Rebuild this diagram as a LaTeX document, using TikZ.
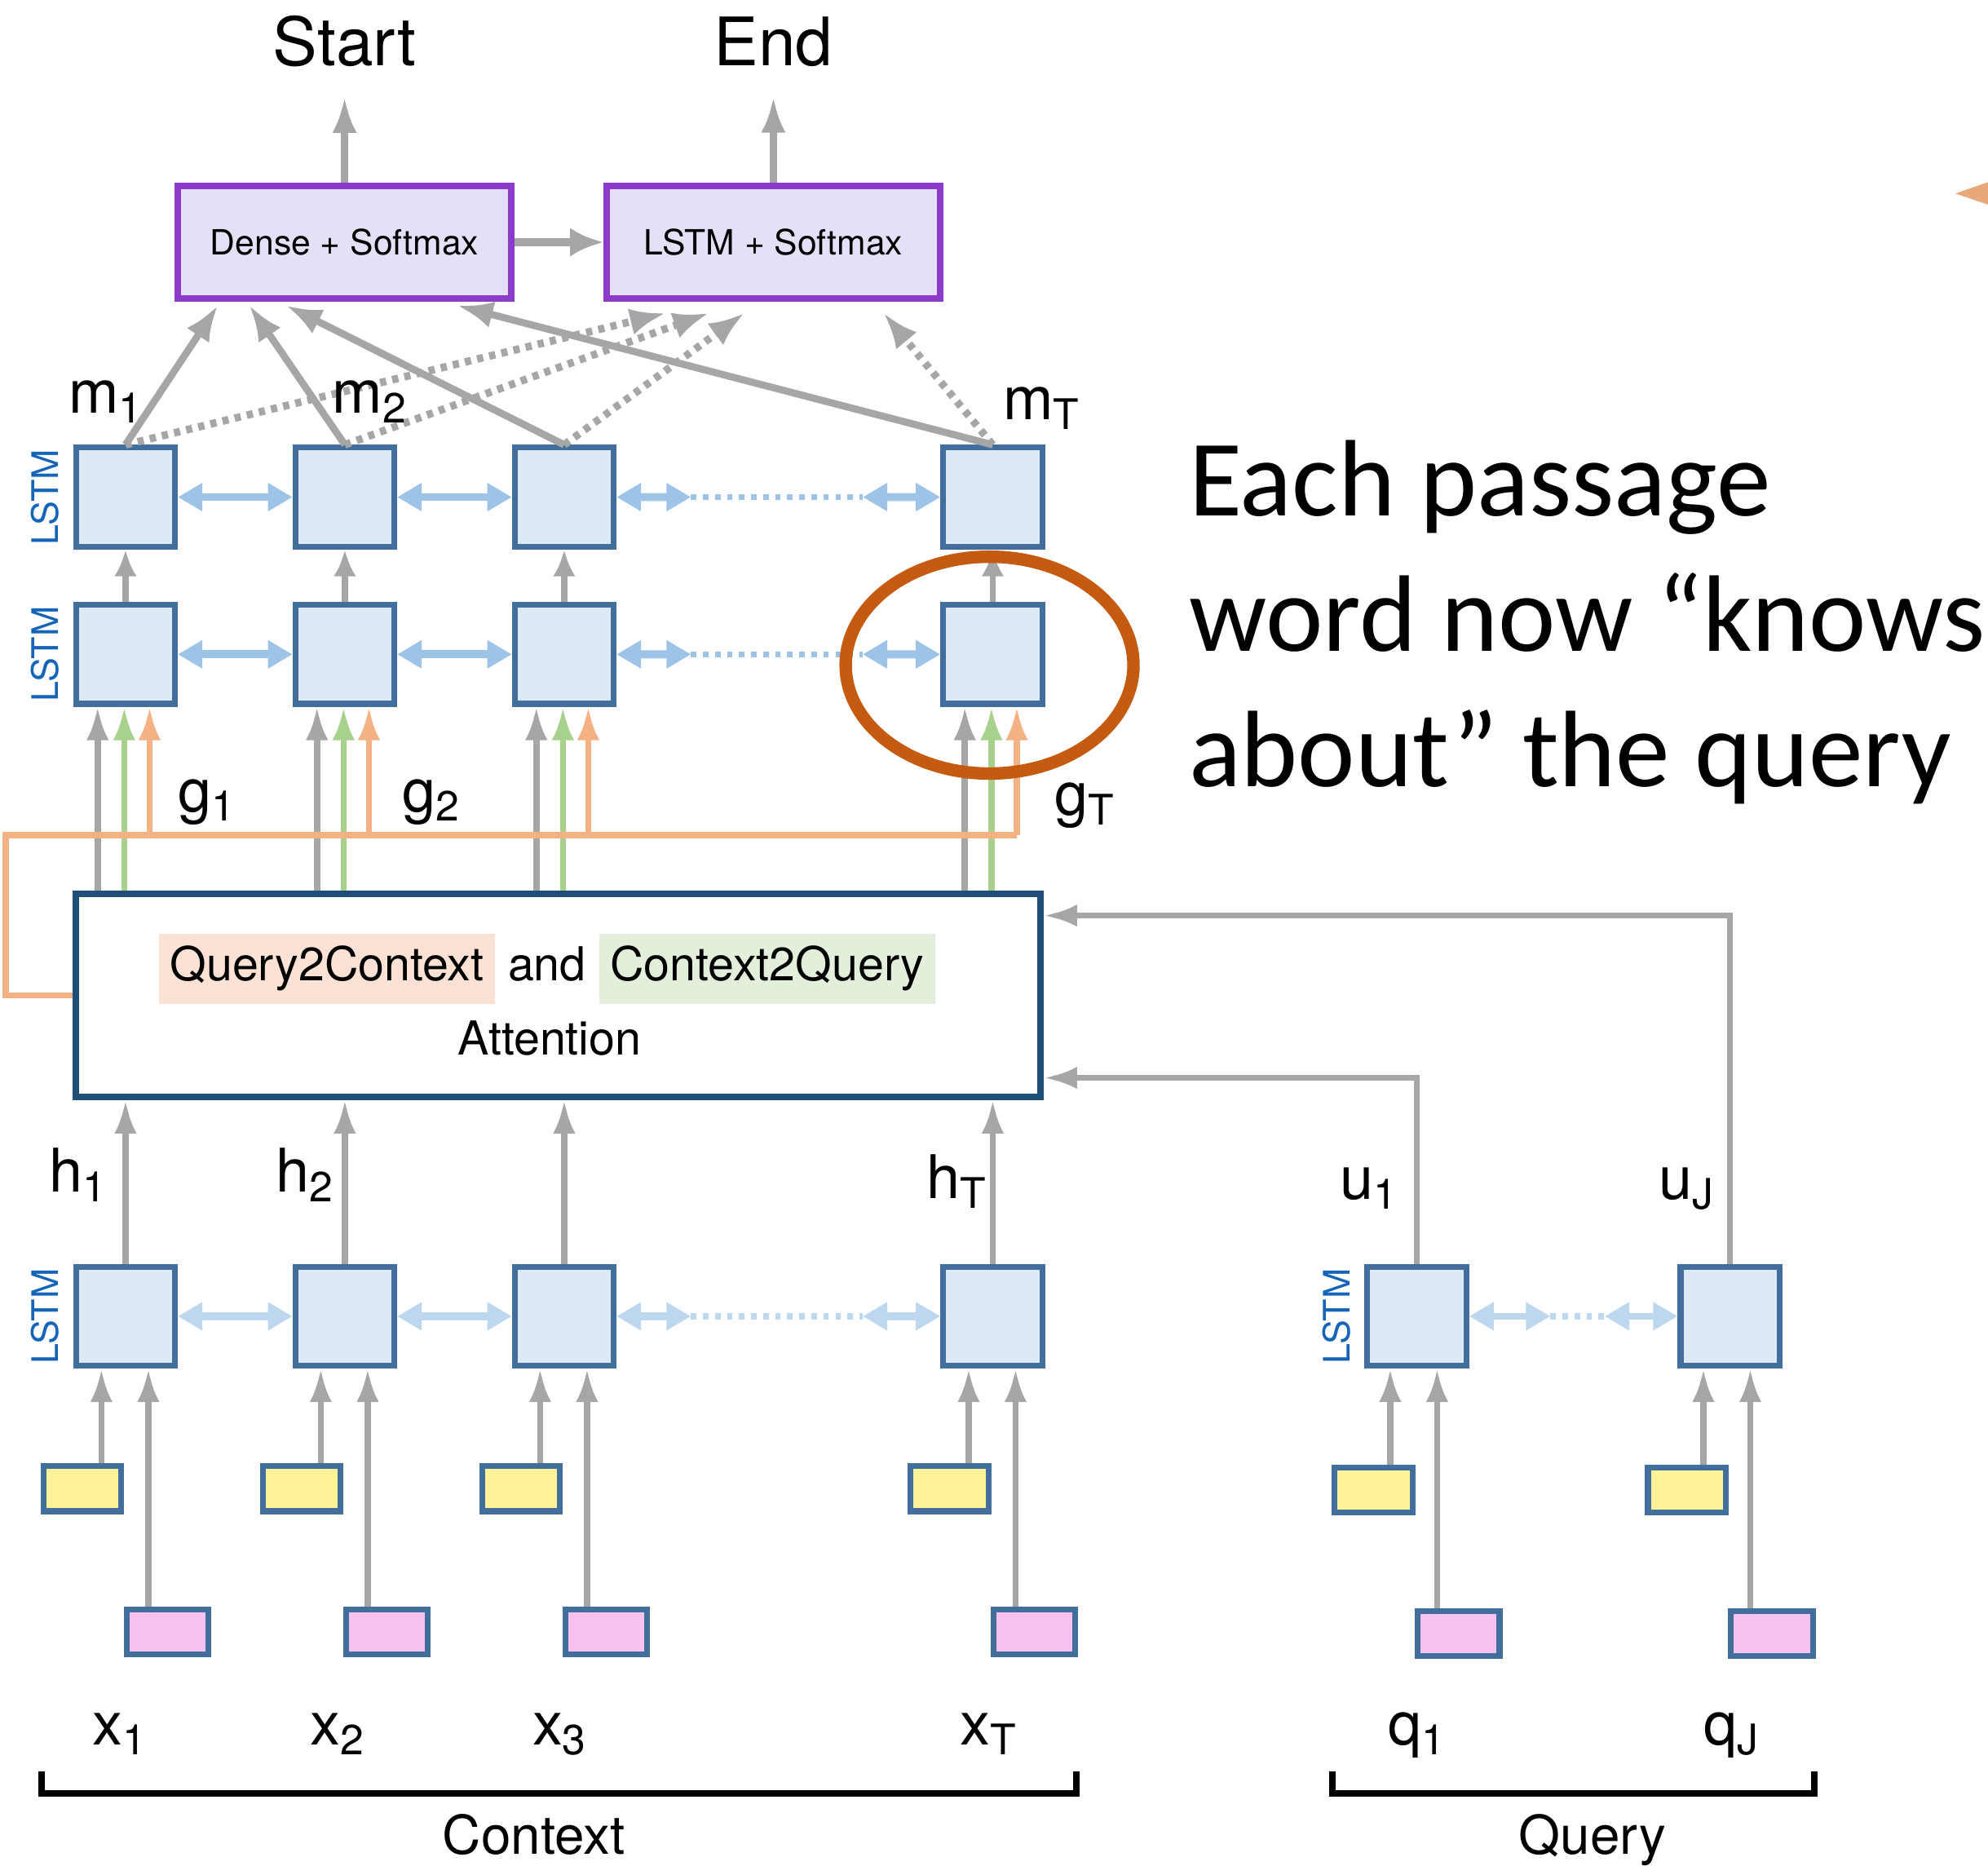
\documentclass[tikz,border=0pt]{standalone}
\usepackage{fontspec}
\setmainfont{TeX Gyre Heros}
\newfontfamily\calibrifont{Carlito}
\usepackage{tikz}
\usetikzlibrary{calc,positioning,arrows.meta}

\definecolor{lstmfill}{RGB}{221,234,246}
\definecolor{lstmedge}{RGB}{66,110,155}
\definecolor{attedge}{RGB}{31,78,121}
\definecolor{smedge}{RGB}{140,58,201}
\definecolor{smfill}{RGB}{229,224,247}
\definecolor{arrgray}{RGB}{166,166,166}
\definecolor{biblue}{RGB}{157,195,230}
\definecolor{biblue2}{RGB}{189,215,238}
\definecolor{orline}{RGB}{244,177,131}
\definecolor{grline}{RGB}{169,209,142}
\definecolor{embyellow}{RGB}{255,245,152}
\definecolor{embpink}{RGB}{248,194,238}
\definecolor{hlred}{RGB}{251,226,213}
\definecolor{hlgreen}{RGB}{226,239,218}
\definecolor{ringcol}{RGB}{197,90,17}
\definecolor{lstmtxt}{RGB}{20,100,185}

\begin{document}
\begin{tikzpicture}[>={Latex[length=7.5pt,width=5pt]},
		lstm/.style={draw=lstmedge, fill=lstmfill, line width=1.3pt, minimum width=0.78cm, minimum height=0.78cm, inner sep=0},
		emb/.style={draw=lstmedge, line width=1.3pt, minimum width=0.615cm, minimum height=0.355cm, inner sep=0},
		smbox/.style={draw=smedge, fill=smfill, line width=1.4pt, minimum width=2.63cm, minimum height=0.89cm, font=\fontsize{7.8}{9}\selectfont},
		garrow/.style={->, arrgray, line width=1.4pt},
		bi/.style={>={Triangle[length=5.5pt,width=6pt]}, <->, line width=1.8pt},
		bidots/.style={line width=1.3pt, dash pattern=on 1.2pt off 1.5pt},
		lab/.style={font=\fontsize{13.5}{16}\selectfont, anchor=base, inner sep=0},
		lstmlbl/.style={rotate=90, text=lstmtxt, font=\fontsize{8.2}{9}\selectfont, inner sep=0},
		hl/.style={font=\fontsize{10.5}{12}\selectfont, text height=8pt, text depth=2.5pt, inner xsep=2.5pt, inner ysep=2.6pt},
		note/.style={anchor=base west, inner sep=0, font=\calibrifont\fontsize{24.4}{30}\selectfont}]
		
		\useasboundingbox (0,0) rectangle (15.68,-14.71);
		
		% output layer
		\node[smbox] (dense) at (2.7175,-1.91) {Dense + Softmax};
		\node[smbox] (lsm) at (6.10,-1.91) {LSTM + Softmax};
		\node[lab, font=\fontsize{15}{18}\selectfont, inner sep=0.23cm] (start) at (2.7175,-0.52) {Start};
		\node[lab, font=\fontsize{15}{18}\selectfont, inner sep=0.23cm] (end) at (6.10,-0.52) {End};
		\draw[garrow, line width=1.5pt, >={Latex[length=8pt,width=5.5pt]}] (dense.north) -- (start.south);
		\draw[garrow, line width=1.5pt, >={Latex[length=8pt,width=5.5pt]}] (lsm.north) -- (end.south);
		\draw[garrow, line width=1.9pt, >={Latex[length=7.5pt,width=6.5pt]}] (dense.east) -- (lsm.west);
		
		% context columns
		\foreach \i/\x in {1/0.99,2/2.72,3/4.45,4/7.83}{
			\node[lstm] (ma\i) at (\x,-3.92) {};
			\node[lstm] (mb\i) at (\x,-5.16) {};
			\node[lstm] (enc\i) at (\x,-10.38) {};
			\node[emb, fill=embyellow] (ch\i) at (\x-0.34,-11.74) {};
			\node[emb, fill=embpink, minimum width=0.645cm] (wd\i) at (\x+0.33,-12.87) {};
		}
		
		% query columns
		\foreach \i/\x in {1/11.175,2/13.645}{
			\node[lstm] (qenc\i) at (\x,-10.38) {};
			\node[emb, fill=embyellow] (qch\i) at (\x-0.34,-11.75) {};
			\node[emb, fill=embpink, minimum width=0.645cm] (qwd\i) at (\x+0.33,-12.88) {};
		}
		
		% attention
		\node[draw=attedge, line width=1.4pt, minimum width=7.61cm, minimum height=1.60cm] (att) at (4.4025,-7.85) {};
		\node[hl] (and) at (4.315,-7.64) {and};
		\node[hl, fill=hlred, left=0pt of and] (q2c) {Query2Context};
		\node[hl, fill=hlgreen, right=0pt of and] (c2q) {Context2Query};
		\node[lab, font=\fontsize{10.5}{12}\selectfont] (attn) at (4.335,-8.32) {Attention};
		
		\node[lstmlbl] (lbl1) at ($(ma1.west)+(-0.22,0)$) {LSTM};
		\node[lstmlbl] (lbl2) at ($(mb1.west)+(-0.22,0)$) {LSTM};
		\node[lstmlbl] (lbl3) at ($(enc1.west)+(-0.22,0)$) {LSTM};
		\node[lstmlbl] (lbl4) at ($(qenc1.west)+(-0.22,0)$) {LSTM};
		
		% bidirectional links
		\foreach \r/\c in {ma/biblue,mb/biblue,enc/biblue2}{
			\coordinate (\r p) at ($(\r3.east)!0.23!(\r4.west)$);
			\coordinate (\r q) at ($(\r3.east)!0.76!(\r4.west)$);
			\draw[bi, \c] (\r1.east) -- (\r2.west);
			\draw[bi, \c] (\r2.east) -- (\r3.west);
			\draw[bi, \c] (\r3.east) -- (\r p);
			\draw[bidots, \c] (\r p) -- (\r q);
			\draw[bi, \c] (\r q) -- (\r4.west);
		}
		\coordinate (qp) at ($(qenc1.east)!0.39!(qenc2.west)$);
		\coordinate (qq) at ($(qenc1.east)!0.65!(qenc2.west)$);
		\draw[bi, biblue2, line width=1.4pt] (qenc1.east) -- (qp);
		\draw[bidots, biblue2] (qp) -- (qq);
		\draw[bi, biblue2, line width=1.4pt] (qq) -- (qenc2.west);
		
		% vertical flow
		\foreach \i in {1,2,3,4}{
			\coordinate (ea\i) at ($(enc\i.south)+(-0.19,0)$);
			\coordinate (eb\i) at ($(enc\i.south)+(0.18,0)$);
			\draw[garrow] (ch\i.north -| ea\i) -- (ea\i);
			\draw[garrow] (wd\i.north -| eb\i) -- (eb\i);
			\draw[garrow] (enc\i.north) -- (enc\i.north |- att.south);
			\coordinate (ga\i) at ($(mb\i.south)+(-0.22,0)$);
			\coordinate (gg\i) at ($(mb\i.south)+(-0.01,0)$);
			\coordinate (ob\i) at ($(mb\i.south)+(0.19,0)$);
			\draw[garrow] (att.north -| ga\i) -- (ga\i);
			\draw[->, grline, line width=1.4pt] (att.north -| gg\i) -- (gg\i);
			\draw[garrow, >={Latex[length=6pt,width=5pt]}] (mb\i.north) -- (ma\i.south);
		}
		\foreach \i in {1,2}{
			\coordinate (qa\i) at ($(qenc\i.south)+(-0.21,0)$);
			\coordinate (qb\i) at ($(qenc\i.south)+(0.16,0)$);
			\draw[garrow] (qch\i.north -| qa\i) -- (qa\i);
			\draw[garrow] (qwd\i.north -| qb\i) -- (qb\i);
		}
		
		% query into attention
		\coordinate (ua1) at ($(att.east)+(0,-0.65)$);
		\coordinate (ua2) at ($(att.east)+(0,0.63)$);
		\draw[garrow] (qenc1.north) |- (ua1);
		\draw[garrow] (qenc2.north) |- (ua2);
		
		% query2context loop
		\coordinate (ol) at (0.045,-6.585);
		\draw[orline, line width=1.4pt] (att.west) -| (ol) -- (ol -| ob4);
		\foreach \i in {1,2,3,4}{
			\draw[->, orline, line width=1.4pt] (ol -| ob\i) -- (ob\i);
		}
		
		% to the output layer
		\foreach \i/\a/\b in {1/-1.0/-0.85,2/-0.75/-0.51,3/-0.46/-0.23,4/0.89/0.87}{
			\coordinate (ds\i) at ($(dense.south)+(\a,-0.03)$);
			\coordinate (ls\i) at ($(lsm.south)+(\b,-0.09)$);
			\draw[garrow, line width=1.7pt, dash pattern=on 1.4pt off 1.4pt, >={Latex[length=8pt,width=6pt]}] (ma\i.north) -- (ls\i);
		}
		\foreach \i in {1,2,3,4}{
			\draw[garrow, line width=1.6pt, >={Latex[length=8pt,width=6pt]}] (ma\i.north) -- (ds\i);
		}
		
		% labels
		\node[lab] (m1) at (0.84,-3.26) {m\textsubscript{1}};
		\node[lab] (m2) at (2.92,-3.26) {m\textsubscript{2}};
		\node[lab] (mT) at (8.22,-3.31) {m\textsubscript{T}};
		\node[lab] (g1) at (1.64,-6.40) {g\textsubscript{1}};
		\node[lab] (g2) at (3.41,-6.40) {g\textsubscript{2}};
		\node[lab] (gT) at (8.56,-6.43) {g\textsubscript{T}};
		\node[lab] (h1) at (0.62,-9.40) {h\textsubscript{1}};
		\node[lab] (h2) at (2.41,-9.40) {h\textsubscript{2}};
		\node[lab] (hT) at (7.55,-9.45) {h\textsubscript{T}};
		\node[lab] (u1) at (10.80,-9.46) {u\textsubscript{1}};
		\node[lab] (uJ) at (13.31,-9.46) {u\textsubscript{J}};
		\node[lab] (x1) at (0.95,-13.76) {x\textsubscript{1}};
		\node[lab] (x2) at (2.67,-13.76) {x\textsubscript{2}};
		\node[lab] (x3) at (4.42,-13.76) {x\textsubscript{3}};
		\node[lab] (xT) at (7.80,-13.76) {x\textsubscript{T}};
		\node[lab] (q1) at (11.18,-13.76) {q\textsubscript{1}};
		\node[lab] (qJ) at (13.66,-13.76) {q\textsubscript{J}};
		
		\draw[line width=1.5pt] (0.33,-13.97) -- (0.33,-14.145) -- (8.49,-14.145) -- (8.49,-13.97);
		\draw[line width=1.5pt] (10.51,-13.97) -- (10.51,-14.145) -- (14.31,-14.145) -- (14.31,-13.97);
		\node[lab, font=\fontsize{12}{14}\selectfont] (ctx) at (4.21,-14.62) {Context};
		\node[lab, font=\fontsize{12}{14}\selectfont] (qry) at (12.56,-14.62) {Query};
		
		% highlight
		\draw[ringcol, line width=2.8pt] ($(mb4)+(-0.025,-0.085)$) ellipse (1.135 and 0.855);
		\node[note] (n1) at (9.37,-4.07) {Each passage};
		\node[note] (n2) at (9.37,-5.135) {word now “knows};
		\node[note] (n3) at (9.37,-6.20) {about” the query};
		\fill[orline!95!black] (15.423,-1.526) -- (15.68,-1.436) -- (15.68,-1.614) -- cycle;
	\end{tikzpicture}
\end{document}
